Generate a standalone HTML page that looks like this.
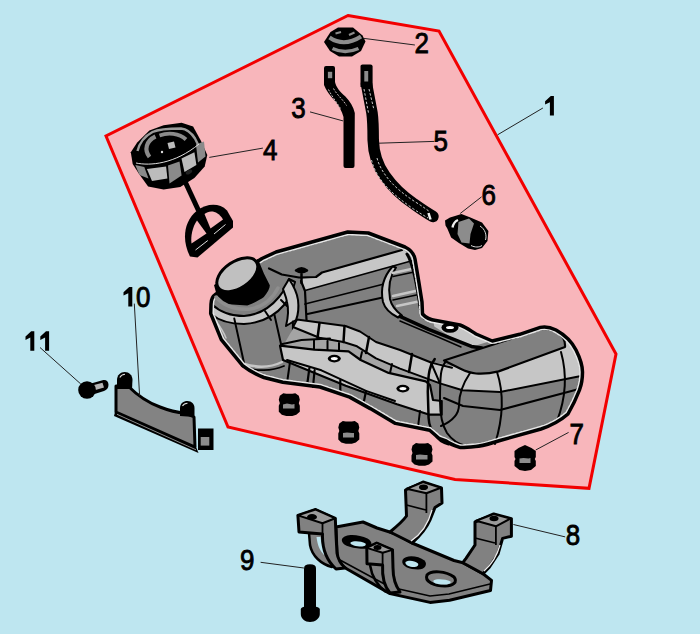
<!DOCTYPE html>
<html><head><meta charset="utf-8">
<style>
html,body{margin:0;padding:0;width:700px;height:634px;overflow:hidden;background:#bee6f0;}
svg{position:absolute;left:0;top:0;display:block}
text{font-family:"Liberation Sans",sans-serif;font-size:28.8px;fill:#000;stroke:#000;stroke-width:0.9px;}
</style></head><body>
<svg width="700" height="634" viewBox="0 0 700 634">
<polygon points="348,15.5 439,31 616,354 589,488.3 455,479.5 228,427 106,136" fill="#f8b6bb" stroke="#f20000" stroke-width="3"/>
<g stroke-linejoin="round" stroke-linecap="round">
<defs>
<clipPath id="tclip"><path d="M211,304 C211,299 213,296 216,294 L255,263 L262,258.5 L276,252 L347.7,232 L368.3,233 L405,247 C411,250 414,254 415,259 L419,283 L422,302 L422.5,314 C426,318 430,320 436,320.5 L460,325 C466,327 471,331 476,334 L492.3,341 L519.7,334.3 L540.3,327.4 C546,326 552,328 556,330 C565,335 572,342 576,350 C580,358 582.5,365 582.5,372 C582.5,380 581,386 579.5,390 C576,399 572,407 568,414 C560,421 550,426 541,429 L500,440.5 C490,443.5 482,446.5 475.7,446.5 C466,447.5 460,447.5 459.7,447.4 C454,445.5 450,444 446,441 L438.9,438.3 L429.7,430.3 L395.4,423.4 L370.3,408.6 L349.7,397.1 L320,387 L282.8,382.3 L263.9,377.5 C255,374 248,370 242.6,365.7 L221.3,339.7 L210.7,313.6 Z"/></clipPath>
</defs>
<path d="M211,304 C211,299 213,296 216,294 L255,263 L262,258.5 L276,252 L347.7,232 L368.3,233 L405,247 C411,250 414,254 415,259 L419,283 L422,302 L422.5,314 C426,318 430,320 436,320.5 L460,325 C466,327 471,331 476,334 L492.3,341 L519.7,334.3 L540.3,327.4 C546,326 552,328 556,330 C565,335 572,342 576,350 C580,358 582.5,365 582.5,372 C582.5,380 581,386 579.5,390 C576,399 572,407 568,414 C560,421 550,426 541,429 L500,440.5 C490,443.5 482,446.5 475.7,446.5 C466,447.5 460,447.5 459.7,447.4 C454,445.5 450,444 446,441 L438.9,438.3 L429.7,430.3 L395.4,423.4 L370.3,408.6 L349.7,397.1 L320,387 L282.8,382.3 L263.9,377.5 C255,374 248,370 242.6,365.7 L221.3,339.7 L210.7,313.6 Z" fill="#808080"/>
<!-- back lobe light stripe -->
<path d="M300,279 L316,277.5 L322,273 L404,250 C408,253 410,256 411,261 L305,290.5 Z" fill="#c6c6c6"/>
<path d="M305,290.5 L411,261" stroke="#000" stroke-width="1.8" fill="none"/>
<path d="M305,304 L388,283 M307.5,314 L385,297" stroke="#000" stroke-width="1.8" fill="none"/>
<path d="M269,268.5 L281.8,274.5 L299,277.5 L316,277 L322,272.5 L402,250" stroke="#000" stroke-width="2.2" fill="none"/>
<path d="M301,281 L305,291 L306.5,320" stroke="#000" stroke-width="2.2" fill="none"/>
<path d="M296,270.5 Q301.5,266 307,270.5 Q301.5,274 296,270.5 Z M301.5,272 L301.5,283" stroke="#000" stroke-width="2.5" fill="#000"/>
<!-- back lobe rib -->
<path d="M392.5,266.5 C384,276 380,288 383,302 C385,309 391,314 398,317.5 L402,315.5 C396,311 391.5,306 390,299 C388,288 389.5,277 396,267.5 Z" fill="#c6c6c6" stroke="#000" stroke-width="2"/>
<path d="M393,273 L416,268 M393,296 L420,290 M397,306 L421,301" stroke="#c6c6c6" stroke-width="2.5" fill="none"/>
<path d="M393,276.5 L416.5,271.5 M393,300 L421,294" stroke="#000" stroke-width="1.5" fill="none"/>
<path d="M407,254 C412,262 416,280 419,300 C420,308 421,314 424,318" stroke="#000" stroke-width="3" fill="none"/>
<!-- saddle -->
<path d="M432.9,319.3 L450,321 L464.3,326.4 L491.4,340.7 L472.9,346.4 L450,336.4 L434.3,326.4 Z" fill="#c6c6c6"/>
<path d="M400,316.4 L428.6,329.3 L471.4,346.4 L482,348" stroke="#000" stroke-width="3.5" fill="none"/>
<path d="M400,321 L438,337 L461,347" stroke="#000" stroke-width="1.5" fill="none"/>
<!-- right lobe top face outline -->
<!-- right lobe light band -->
<path d="M431,362.5 C438,362 446,365 453.4,366.3 L483.1,373.1 L565,347 C565.5,340 563,336 556,330 C565,335 572,342 576,350 C580,358 582,365 582,372 L581,376 L500,392 L462.5,390.3 L440,383.4 Z" fill="#c6c6c6"/>
<path d="M444,360.5 L539.7,329.5 C546,328.5 552,329.5 558,333 C563,336 565.5,340 565,347 L498.6,371.4 C490,373.5 482,374 476,373.5 C470,373 466,371.5 460,368.5 Z" fill="#808080" stroke="#000" stroke-width="2.2"/>
<path d="M431.3,362.6 L452,367.8 M440,383.4 L462.5,390.3 L500,392 L581,376" stroke="#000" stroke-width="2" fill="none"/>
<path d="M444,398 L463,406 L500,410 L579,389" stroke="#000" stroke-width="2" fill="none"/>
<path d="M497,372 C503,390 504,415 495,444" stroke="#000" stroke-width="2" fill="none"/>
<path d="M561,352 C566,370 567,395 557,421" stroke="#000" stroke-width="2" fill="none"/>
<!-- collar light band -->
<path d="M211.8,304.2 C220,312 232,316 244,316 C258,315 270,308 279,297 C284,291 287,285 289,279 L295,282 C293,290 290,298 284,305 C274,317 260,323 244,324 C230,324 218,320 211,314 Z" fill="#c6c6c6" stroke="#000" stroke-width="2"/>
<path d="M265,311 L271,320 M281,300 L287,306" stroke="#000" stroke-width="2" fill="none"/>
<!-- shoulder light region -->
<path d="M289,279 C293,285 297,292 298,300 C299,308 298,315 296,320 L286,326 C288,318 289,310 287,302 C286,296 284,292 283,289 Z" fill="#c6c6c6" stroke="#000" stroke-width="2"/>
<!-- bulb panel lines -->
<path d="M234.3,318.6 L244.3,364.3 M274.3,314.3 L281.4,345.7 M292.9,321.4 L292.9,350" stroke="#000" stroke-width="2" fill="none"/>
<path d="M244.3,364 C258,368 272,367 282,362" stroke="#c6c6c6" stroke-width="2.5" fill="none"/>
<path d="M242.5,366.5 C256,372 272,371 284,366" stroke="#000" stroke-width="1.8" fill="none"/>
<path d="M210.7,313.6 C215,320 222,328 226,338" stroke="#c6c6c6" stroke-width="1.5" fill="none"/>
<!-- strap -->
<path d="M283,346 L294,327 L319.4,337.7 L343.4,342 L357.1,346.3 L376,358.3 L400,368.6 L430,380 L426,381.4 L388.6,372.9 L360.6,360 L348.6,351.4 L314.3,349.7 Z" fill="#a4a4a4"/>
<path d="M297,319.5 L323,323 L345.5,326 L360,331.5 L376,342 L400,350 L431,362.5 L440,383.4 L400,368.6 L376,358.3 L357,346.3 L343.4,342 L319.4,337.7 L293,327 Z" fill="#c6c6c6" stroke="#000" stroke-width="2"/>
<path d="M319.5,323 L317.5,338 M344.5,326 L343.5,342 M369,337 L366,353 M412,354 L409,372" stroke="#000" stroke-width="2.5" fill="none"/>
<path d="M314,340 L314,349.5 M327.5,341 L327.5,350.5 M339,343 L339,351 M362,352 L360,360.5 M392,364 L390,373" stroke="#000" stroke-width="2" fill="none"/>
<path d="M281.4,344.3 L301.4,340 L330,338.6" stroke="#000" stroke-width="2" fill="none"/>
<!-- plate -->
<path d="M280,345.7 L314.3,349.7 L348.6,351.4 L360.6,360 L388.6,372.9 L425.7,381.4 L430,385 L433,400 L441.7,401 L441.7,414.7 L429.5,414.7 L397,404.3 L345.7,385.7 L283,360 Z" fill="#c6c6c6" stroke="#000" stroke-width="2.2"/>
<ellipse cx="334.3" cy="358.6" rx="6.5" ry="3.8" fill="#000"/>
<ellipse cx="334.3" cy="358.6" rx="3.5" ry="1.7" fill="#fff"/>
<ellipse cx="402.9" cy="388.6" rx="6.5" ry="3.8" fill="#000"/>
<ellipse cx="402.9" cy="388.6" rx="3.5" ry="1.7" fill="#fff"/>
<path d="M287,360 L321.4,370.3 L366,390.9 L395,401" stroke="#000" stroke-width="2" fill="none"/>
<path d="M309.4,368 L307,386 M314.6,370 L313,387 M340.3,380 L340.3,394 M366,391 L364,401" stroke="#000" stroke-width="2.2" fill="none"/>
<path d="M290,362 L287,383 M420,411 L418,427" stroke="#000" stroke-width="2" fill="none"/>
<path d="M434.7,359.1 C430,365 428,372 427.8,392 L428.6,418 C429,425 431,430 434.7,434 C438,440 443,443 448.6,444.2" stroke="#000" stroke-width="2.5" fill="none"/>
<path d="M445,362.6 C441,368 440,374 440,400.8 C440,415 442,425 447,433 C452,440 458,444 466,446" stroke="#000" stroke-width="2" fill="none"/>
<path d="M470,373 C462,385 459,395 459,405 C459,412 455,420 441,426" stroke="#000" stroke-width="2" fill="none"/>
<path d="M211,304 C211,299 213,296 216,294 L255,263 L262,258.5 L276,252 L347.7,232 L368.3,233 L405,247 C411,250 414,254 415,259 L419,283 L422,302 L422.5,314 C426,318 430,320 436,320.5 L460,325 C466,327 471,331 476,334 L492.3,341 L519.7,334.3 L540.3,327.4 C546,326 552,328 556,330 C565,335 572,342 576,350 C580,358 582.5,365 582.5,372 C582.5,380 581,386 579.5,390 C576,399 572,407 568,414 C560,421 550,426 541,429 L500,440.5 C490,443.5 482,446.5 475.7,446.5 C466,447.5 460,447.5 459.7,447.4 C454,445.5 450,444 446,441 L438.9,438.3 L429.7,430.3 L395.4,423.4 L370.3,408.6 L349.7,397.1 L320,387 L282.8,382.3 L263.9,377.5 C255,374 248,370 242.6,365.7 L221.3,339.7 L210.7,313.6 Z" fill="none" stroke="#e6e6e6" stroke-width="6.5" stroke-dasharray="2,2.5" clip-path="url(#tclip)"/>
<path d="M211,304 C211,299 213,296 216,294 L255,263 L262,258.5 L276,252 L347.7,232 L368.3,233 L405,247 C411,250 414,254 415,259 L419,283 L422,302 L422.5,314 C426,318 430,320 436,320.5 L460,325 C466,327 471,331 476,334 L492.3,341 L519.7,334.3 L540.3,327.4 C546,326 552,328 556,330 C565,335 572,342 576,350 C580,358 582.5,365 582.5,372 C582.5,380 581,386 579.5,390 C576,399 572,407 568,414 C560,421 550,426 541,429 L500,440.5 C490,443.5 482,446.5 475.7,446.5 C466,447.5 460,447.5 459.7,447.4 C454,445.5 450,444 446,441 L438.9,438.3 L429.7,430.3 L395.4,423.4 L370.3,408.6 L349.7,397.1 L320,387 L282.8,382.3 L263.9,377.5 C255,374 248,370 242.6,365.7 L221.3,339.7 L210.7,313.6 Z" fill="none" stroke="#000" stroke-width="3.5"/>
<ellipse cx="450" cy="327.5" rx="8.5" ry="5.2" fill="#000"/>
<ellipse cx="450" cy="327.5" rx="4" ry="1.6" fill="#fff"/>
<!-- cap -->
<path d="M214,285 L216.6,294.7 C220,300 224,304 228.4,304.2 L247.3,305.4 C254,303 260,300 263.9,297.1 C268,292 270,288 269.8,285.2 L263.9,273.4 L258,259 Z" fill="#000"/>
<ellipse cx="239" cy="279" rx="23" ry="14" transform="rotate(-34 239 279)" fill="#000"/>
<ellipse cx="237.3" cy="274.8" rx="23" ry="13.3" transform="rotate(-34 237.3 274.8)" fill="#c0c0c0" stroke="#000" stroke-width="3"/>
<path d="M216,297 C224,306 236,310 250,309 C262,307 272,300 278,288" stroke="#8e8e8e" stroke-width="3.5" fill="none"/>

</g>

<g>
<path d="M338,27.5 L353,27.5 L362.5,35.5 L365.5,41.5 L361,51 L352,56.5 L339,56.5 L330,51 L324,42 L330.5,32 Z" fill="#000"/>
<path d="M329.5,37.5 Q344,47.5 361,36.5" stroke="#8c8c8c" stroke-width="4" fill="none"/>
<path d="M332.5,48.5 Q345,54.5 358.5,48.5" stroke="#8c8c8c" stroke-width="3.5" fill="none"/>
<path d="M335.5,33.5 L341,32" stroke="#8c8c8c" stroke-width="2" fill="none"/>
<path d="M349,35 L354.5,32.5" stroke="#8c8c8c" stroke-width="2" fill="none"/>
</g>

<g>
<path d="M324,68 Q324,66 326,66 L333,66 Q335,66 335,68 L335,82 C336,87 340,92 345.4,96.5 C350,101 353.5,107 354.8,113 L354.5,166 Q354.5,168 352.5,168 L345.5,168 Q343.5,168 343.5,166 L343.5,117 C342,111 339,106 335,101 C330,96 326,90 324,85 Z" fill="#000"/>
<rect x="327.9" y="71.8" width="4.3" height="6.4" fill="#8c8c8c"/>
<path d="M328.5,89.5 C331.5,96 336.5,102 340.5,108.5" stroke="#e0d0d2" stroke-width="0.9" stroke-dasharray="2,1.4" fill="none"/>
<path d="M333.5,88.5 C337,95 342.5,99 346.5,105.5" stroke="#e0d0d2" stroke-width="0.9" stroke-dasharray="2,1.4" fill="none"/>
</g>

<g>
<path d="M366.5,84 L372,113 C373,120 373.2,130 373.2,140 C373.5,152 377,165 385,176 C392,186 402,196 414,204 C421,209 427,213 433,216.5" stroke="#000" stroke-width="11.5" stroke-linejoin="round" stroke-linecap="round" fill="none"/>
<path d="M360.5,66 Q360.5,64.4 362.5,64.4 L370.5,64.4 Q372.6,64.4 372.6,66.5 L372.6,87 L360.5,87 Z" fill="#000"/>
<rect x="364.3" y="71" width="3.9" height="10.5" fill="#8c8c8c"/>
<path d="M364,89 L368.5,113 M371.5,160 C374,170 379,178 385,185 C392,193 401,200 412,208 C418,212 423,215 428,218" stroke="#ddd" stroke-width="0.9" stroke-dasharray="2.5,1.8" fill="none"/>
<path d="M369,89 L374,110 M377,158 C379,166 384,174 390,181 C397,189 406,196 417,203 C422,206 426,209 430,212" stroke="#ddd" stroke-width="0.9" stroke-dasharray="2.5,1.8" fill="none"/>
<path d="M428.5,213 L430.5,219.5" stroke="#eee" stroke-width="2.5" fill="none"/>
</g>

<g>
<path d="M130.8,152.3 L137.2,142.6 L149.4,130.4 L163.6,125.3 L181.6,122.7 L193.1,126.6 L200.9,140.7 L207.3,154.9 L204.7,166.4 L194.4,178 L180.3,187 L163.6,189.6 L148.1,186.4 L139.1,174.1 L132.7,163.9 Z" fill="#000"/>
<path d="M146.9,169 L166.1,166.4 L167.4,178.5 L152,181 Z" fill="#bcbcbc"/>
<path d="M168,165.5 L179.5,161.5 L181.6,175.4 L169.5,183.5 Z" fill="#8a8a8a"/>
<path d="M181.5,158.5 L194.4,152.3 L196.4,165.1 L184.5,172 Z" fill="#bcbcbc"/>
<path d="M196,144.6 L204,141.5 L205.5,156.5 L198,162.5 Z" fill="#8a8a8a"/>
<path d="M135.3,165 L144.3,167 L148.5,178.5 L139.5,175 Z" fill="#8a8a8a"/>
<path d="M149.5,157 C144,150 146,141 155.5,136.5" stroke="#8a8a8a" stroke-width="4.2" fill="none"/>
<path d="M159.5,135.5 C168,132.5 179,133 186,139.5" stroke="#8a8a8a" stroke-width="3.8" fill="none"/>
<path d="M137.5,151 C139.5,143 145,136 152.5,132 C159,129 170,128.5 181,128.5 C186,129 190.5,131.5 195,138.5 L198,144.5" stroke="#9a9a9a" stroke-width="2.4" fill="none"/>
<ellipse cx="189" cy="172" rx="3.5" ry="2" transform="rotate(-30 189 172)" fill="#222"/>
<circle cx="162" cy="152" r="1.2" fill="#ddd"/>
<path d="M167.5,143 L174,141.5 L175.5,147.5 L169,149 Z" fill="#bcbcbc"/>
<path d="M136,163 C150,166 175,164 199,144" stroke="#ddd" stroke-width="1" fill="none"/>
<path d="M185.5,182.5 L198.5,210.5" stroke="#000" stroke-width="5" fill="none"/>
<path d="M190,256.5 C182,241 183,222 197,210.5 C207,203.5 219,202.5 227,210.5 L233,221 L233,227.5 L197.5,257.5 Z" fill="#000"/>
<path d="M204.5,214 C210,209.5 218,211 223,219.5 L210.5,228.5 Z" fill="#f8b6bb"/>
<path d="M197,220.5 L206.5,233.5 L191.5,243.5 C190.5,236 192.5,227 197,220.5 Z" fill="#f8b6bb"/>
<path d="M195.5,250 L207.8,240.5 M214,234 L225.5,224.5" stroke="#ddd" stroke-width="1" fill="none"/>
</g>

<g>
<path d="M445,220.5 L450,217.5 L455,216 L461.4,214 L470.4,217.5 L482,222.5 L488.4,231 L487.5,241 L482,248 L475,250 L468,248.4 L458.9,243 L451.1,237.4 L447.3,228.4 L445.5,225.5 Z" fill="#000"/>
<path d="M458.5,222 L469,218.5 L474,223.5 L470.5,234 L469.5,243.5 L461.5,242.5 L457.5,234 Z" fill="#8c8c8c"/>
<path d="M452.5,227.5 Q453.5,222 458,220" stroke="#eee" stroke-width="2.3" fill="none"/>
<path d="M480,226 C485,229 487,235 485.5,240" stroke="#ddd" stroke-width="1" fill="none"/>
<path d="M471,245.5 C475,247.5 479,247.5 482,245.5" stroke="#ddd" stroke-width="1" fill="none"/>
</g>

<g>
<path d="M1.5,3 L5,0.5 L8,1 L14,1 L17,0.5 L20.5,3 L21.5,7 L20.5,10.5 L21.5,13 L21.5,19 L18,22 L14,23.2 L8,23.2 L3.5,22 L0.5,19 L0.5,13 L1.5,10.5 L0.5,7 Z" transform="translate(278.3,392.8)" fill="#000"/><path d="M283,404.5 L287,403.5 L292,404.5 L294.5,404 L294.5,408.5 L283,408.5 Z" fill="#8c8c8c"/>
<path d="M1.5,3 L5,0.5 L8,1 L14,1 L17,0.5 L20.5,3 L21.5,7 L20.5,10.5 L21.5,13 L21.5,19 L18,22 L14,23.2 L8,23.2 L3.5,22 L0.5,19 L0.5,13 L1.5,10.5 L0.5,7 Z" transform="translate(337.8,420.6)" fill="#000"/><path d="M343,433 L347,432.5 L352,433 L354,433 L354,437.5 L343,437.5 Z" fill="#8c8c8c"/>
<path d="M1.5,3 L5,0.5 L8,1 L14,1 L17,0.5 L20.5,3 L21.5,7 L20.5,10.5 L21.5,13 L21.5,19 L18,22 L14,23.2 L8,23.2 L3.5,22 L0.5,19 L0.5,13 L1.5,10.5 L0.5,7 Z" transform="translate(411,442.5)" fill="#000"/><path d="M416,455 L420,454.5 L425,455 L427.5,455 L427.5,459.5 L416,459.5 Z" fill="#8c8c8c"/>
<path d="M525,445 L531.5,448 L535.8,451 L535.8,457 L534.8,459 L535.8,461 L535.8,466 L531,470 L525,471 L519.5,470 L514.5,466 L514.5,461 L515.5,459 L514.5,457 L514.5,451 L518.5,448 Z" fill="#000"/><path d="M519.5,458.5 L523.5,458 L528.5,458.5 L530.5,458 L530.5,463 L519.5,463 Z" fill="#8c8c8c"/>
</g>

<g stroke-linejoin="round">
<!-- left post legs (behind) -->
<path d="M309,533 L324,533 C325,546 329,555 336,560 L332,567 C321,564 312,556 310,545 Z" fill="#818181" stroke="#000" stroke-width="2.5"/>
<path d="M316.5,537 C317.5,545 319.5,550 324,555 L326,553 C322.5,548.5 321,543 320.5,537 Z" fill="#bee6f0"/>
<!-- base plate -->
<path d="M336,527 L363,522 L377,528 L396,534 L412,543 L454,560.5 L463,562.7 L483,573.7 L491.5,580.4 L490.5,590.5 L449.6,600.2 L430,602.4 L390,593.6 L347,569 C340,565 337,560 337,553 Z" fill="#818181" stroke="#000" stroke-width="3"/>
<path d="M340,560 L390,587 L430,596 L449,594 L490,584" stroke="#000" stroke-width="1.5" fill="none"/>
<!-- slots -->
<path d="M342,539 C345,533.5 358,534 367.5,538.5 C373,541.5 373,547.5 366.5,548.5 C357,549.5 340,546.5 342,539 Z" fill="#000"/>
<path d="M350.5,542.5 C353.5,540.5 361,541 365.5,543.5 C366.5,545.5 364.5,546.5 361,546.5 C357,546.5 349.5,545 350.5,542.5 Z" fill="#bee6f0"/>
<path d="M402.5,560 C405.5,554.5 418,555.5 424.5,560.5 C428,564.5 425,569.5 418,569.5 C410,569.5 400.5,566.5 402.5,560 Z" fill="#000"/>
<path d="M405.5,562 C408.5,560 414.5,560.5 418,563.5 C419,565.5 417,567 413.5,567 C410,567 404.5,565 405.5,562 Z" fill="#bee6f0"/>
<path d="M427,575 C431,570 446,571 454,577 C458,582 453,586 445,586 C435,586 424,582 427,575 Z" fill="#818181" stroke="#000" stroke-width="3"/>
<path d="M433.5,580.5 C436,578.5 446,579 450.5,581.5 C451.5,583.5 448,584.8 443,584.6 C437,584.4 432.5,583 433.5,580.5 Z" fill="#bee6f0"/>
<!-- right-top post column -->
<path d="M405.5,490 L406.5,516 C403,521 396,527 390,532 L412,543 C420,536 427,527 430,520 L435,507.5 L442,503 L441.5,488 L423,482 Z" fill="#818181" stroke="#000" stroke-width="3"/>
<path d="M406.6,488.8 L423.1,482.1 L440.8,487.7 L426.4,493.2 Z" fill="#9a9a9a" stroke="#000" stroke-width="2"/>
<ellipse cx="423.5" cy="487.2" rx="4.5" ry="2.8" fill="#000"/>
<path d="M426.4,493.2 L426.4,513 M406.5,505 L426,510" stroke="#000" stroke-width="1.8" fill="none"/>
<path d="M432,510 C428,525 420,535 411,541" stroke="#eee" stroke-width="1.2" fill="none"/>
<!-- right post column -->
<path d="M475,522 L475,545 L466,558.3 L462.8,562.7 L483,573.7 L489.3,567.1 L498,554 L502.6,538.4 L511.4,536.2 L511.4,518.6 L493.7,514 Z" fill="#818181" stroke="#000" stroke-width="3"/>
<path d="M476.1,520.8 L493.7,514.1 L510.3,518.6 L495.9,526.3 Z" fill="#9a9a9a" stroke="#000" stroke-width="2"/>
<ellipse cx="494" cy="518.5" rx="4.5" ry="2.8" fill="#000"/>
<path d="M495.9,526.3 L495.9,545 M475,538 L495,543" stroke="#000" stroke-width="1.8" fill="none"/>
<path d="M500,545 C497,556 491,565 484,571" stroke="#eee" stroke-width="1.2" fill="none"/>
<!-- left post -->
<path d="M297.9,515.4 L315.6,509.5 L335.3,518.3 L336,535 L337,553 C338,560 341,564 345,568 L336,569 C326,560 322,548 322.5,534 L299,532 Z" fill="#818181" stroke="#000" stroke-width="3"/>
<path d="M297.9,515.4 L315.6,509.5 L335.3,518.3 L322.5,523.3 Z" fill="#9a9a9a" stroke="#000" stroke-width="2"/>
<ellipse cx="312" cy="517" rx="5" ry="3" fill="#000"/>
<path d="M322.5,523.3 L322.5,534" stroke="#000" stroke-width="1.8" fill="none"/>
<!-- middle post -->

<path d="M366.8,547.9 L376.7,543 L392.5,549.9 L393,568 C393,578 395,585 400,592 L390,593 C384,586 382,576 382.6,565 L367,563.7 Z" fill="#818181" stroke="#000" stroke-width="3"/>
<path d="M366.8,547.9 L376.7,543 L392.5,549.9 L382.6,552.8 Z" fill="#9a9a9a" stroke="#000" stroke-width="2"/>
<ellipse cx="377.5" cy="547.5" rx="4" ry="2.5" fill="#000"/>
<path d="M382.6,552.8 L382.6,564" stroke="#000" stroke-width="1.8" fill="none"/>
<path d="M370,565 C372,578 378,586 386,592" stroke="#000" stroke-width="2.5" fill="none"/>
</g>

<g>
<path d="M304,568.5 Q304,564.3 310,564.3 Q316,564.3 316,568.5 L316,608 L304,608 Z" fill="#000"/>
<path d="M300.8,609.5 C300.8,607 304,606.5 310,606.5 C316,606.5 319.8,607 319.8,609.5 L319.8,614 C319.8,618.5 315,622 310,622 C305,622 300.8,618.5 300.8,614 Z" fill="#000"/>
</g>

<g>
<path d="M115,412 L196.5,448 L198.5,453 L114,416 Z" fill="#000"/>
<path d="M116,386 L128,386 C134,392 146,402 160,407 C170,411 178,412.5 185,413 L194,417 L195,447 L116,412 Z" fill="#838383" stroke="#000" stroke-width="3" stroke-linejoin="round"/>
<path d="M117,389 L117,380 C117,375 120.5,372 124.7,372 C129,372 132.5,375 132.5,380 L132,389 Z" fill="#000"/><path d="M119.8,377.5 Q121.5,374.5 125,374.3" stroke="#ddd" stroke-width="1.1" fill="none"/>
<path d="M180,416 L180,408 C180,403.5 183.5,401 187.5,401 C191.5,401 194.5,404 194.5,408 L194.5,417 Z" fill="#000"/><path d="M182.5,406 Q184,403.3 187.5,403.2" stroke="#ddd" stroke-width="1.1" fill="none"/>
<path d="M117,414.3 L196,449.8" stroke="#8a8a8a" stroke-width="1" fill="none"/>
<rect x="198" y="428.5" width="15.5" height="21.5" fill="#000"/>
<rect x="200.7" y="437" width="8.6" height="8.6" fill="#8c8c8c"/>
</g>

<g>
<path d="M91,383.5 L102.5,380.3 C106,379.3 108.5,381.5 108.5,384.8 C108.5,388 106.8,390 104,391 L93,394.5 Z" fill="#000"/>
<path d="M94,385 L102.5,382.8 L104,387.5 L95.5,390 Z" fill="#b4b4b4"/>
<circle cx="87" cy="390" r="8.8" fill="#000"/>
</g>


<g stroke="#222" stroke-width="1" fill="none">
<line x1="497.6" y1="134.8" x2="542.9" y2="108"/>
<line x1="364" y1="38.4" x2="414.9" y2="45"/>
<line x1="310" y1="111.9" x2="343" y2="120.9"/>
<line x1="209.3" y1="157.4" x2="262.9" y2="148.1"/>
<line x1="379" y1="143.2" x2="434.3" y2="141.4"/>
<line x1="460.2" y1="213.5" x2="481.6" y2="196.8"/>
<line x1="535.7" y1="450" x2="568.6" y2="432.4"/>
<line x1="513.4" y1="524.5" x2="565.2" y2="536.9"/>
<line x1="260.6" y1="562.3" x2="303.9" y2="568"/>
<line x1="134.3" y1="303.6" x2="139.6" y2="395.7"/>
<line x1="40" y1="347.5" x2="80.7" y2="383.9"/>
</g>
<g id="labels">
<path d="M545.1,101.3 L550.8,96.0 L553.9,96.0 L553.9,115.6 L549.9,115.6 L549.9,102.3 L545.1,104.6 Z"/>
<text transform="translate(414.6,52.6) scale(0.9,1)">2</text>
<text transform="translate(291.2,117.5) scale(0.9,1)">3</text>
<text transform="translate(263,160.3) scale(0.9,1)">4</text>
<text transform="translate(433.6,151.2) scale(0.9,1)">5</text>
<text transform="translate(481.5,204.7) scale(0.9,1)">6</text>
<text transform="translate(569.5,443.6) scale(0.9,1)">7</text>
<text transform="translate(565.7,545.4) scale(0.9,1)">8</text>
<text transform="translate(240,569.9) scale(0.9,1)">9</text>
<path d="M123.5,292.3 L129.2,287.0 L132.3,287.0 L132.3,306.4 L128.3,306.4 L128.3,293.3 L123.5,295.6 Z"/>
<text transform="translate(136.1,306.6) scale(0.9,1)">0</text>
<path d="M25.5,336.6 L31.2,331.3 L34.3,331.3 L34.3,350.7 L30.3,350.7 L30.3,337.6 L25.5,339.9 Z"/>
<path d="M40.3,336.6 L46.0,331.3 L49.1,331.3 L49.1,350.7 L45.1,350.7 L45.1,337.6 L40.3,339.9 Z"/>
</g>
</svg>
</body></html>
